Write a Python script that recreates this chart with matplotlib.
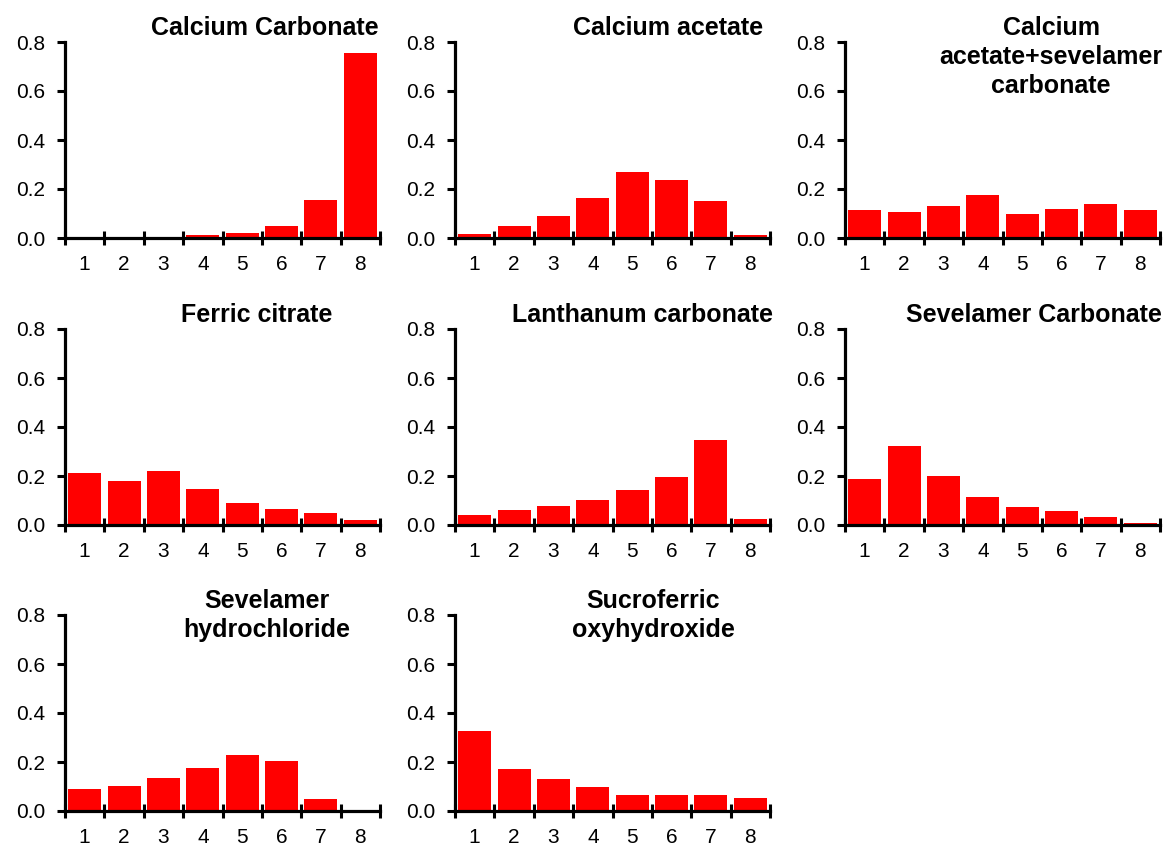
import numpy as np
import matplotlib
matplotlib.use('Agg')
import matplotlib.pyplot as plt
from matplotlib.ticker import FixedLocator, NullFormatter

plt.rcParams['font.family'] = ['Liberation Sans', 'DejaVu Sans']

ranks = [1, 2, 3, 4, 5, 6, 7, 8]

titles = [
    'Calcium Carbonate',
    'Calcium acetate',
    'Calcium\nacetate+sevelamer\ncarbonate',
    'Ferric citrate',
    'Lanthanum carbonate',
    'Sevelamer Carbonate',
    'Sevelamer\nhydrochloride',
    'Sucroferric\noxyhydroxide',
]

calcium_carbonate = [0.001, 0.001, 0.002, 0.011, 0.022, 0.049, 0.155, 0.756]
calcium_acetate = [0.016, 0.049, 0.091, 0.163, 0.269, 0.235, 0.152, 0.012]
ca_acetate_sevelamer = [0.114, 0.106, 0.131, 0.174, 0.098, 0.117, 0.140, 0.113]
ferric_citrate = [0.214, 0.179, 0.222, 0.148, 0.089, 0.066, 0.047, 0.022]
lanthanum_carbonate = [0.042, 0.062, 0.076, 0.102, 0.142, 0.195, 0.348, 0.024]
sevelamer_carbonate = [0.188, 0.321, 0.199, 0.115, 0.072, 0.056, 0.033, 0.008]
sevelamer_hcl = [0.088, 0.103, 0.134, 0.175, 0.230, 0.204, 0.050, 0.0]
sucroferric = [0.325, 0.171, 0.131, 0.100, 0.066, 0.066, 0.065, 0.055]

series = [calcium_carbonate, calcium_acetate, ca_acetate_sevelamer,
          ferric_citrate, lanthanum_carbonate, sevelamer_carbonate,
          sevelamer_hcl, sucroferric]

# horizontal centre of each title, as a fraction of the axes width
title_x = [0.635, 0.676, 0.654, 0.61, 0.594, 0.60, 0.641, 0.63]

W, H = 1171, 848
col_left = [65, 455, 845]
row_top = [42, 329, 615]
ax_w, ax_h = 315, 196

fig = plt.figure(figsize=(W / 100, H / 100), dpi=100)

for i, (name, vals) in enumerate(zip(titles, series)):
    r, c = divmod(i, 3)
    ax = fig.add_axes([col_left[c] / W, 1 - (row_top[r] + ax_h) / H,
                       ax_w / W, ax_h / H])
    ax.bar(ranks, vals, width=0.84, color='#ff0000', edgecolor='none')
    ax.set_xlim(0.5, 8.5)
    ax.set_ylim(0, 0.8)

    for side in ['top', 'right']:
        ax.spines[side].set_visible(False)
    for side in ['left', 'bottom']:
        ax.spines[side].set_linewidth(2.3)

    ax.set_yticks([0.0, 0.2, 0.4, 0.6, 0.8])
    ax.set_yticklabels(['0.0', '0.2', '0.4', '0.6', '0.8'])
    ax.tick_params(axis='y', direction='out', length=6, width=2.2,
                   labelsize=15, pad=8)

    # tick marks between bars, labels under bars
    ax.xaxis.set_major_locator(FixedLocator(np.arange(0.5, 9, 1)))
    ax.xaxis.set_major_formatter(NullFormatter())
    ax.xaxis.set_minor_locator(FixedLocator(ranks))
    ax.set_xticklabels([str(k) for k in ranks], minor=True)
    ax.tick_params(axis='x', which='major', direction='inout', length=10,
                   width=2.2)
    ax.tick_params(axis='x', which='minor', length=0, labelsize=15, pad=12)

    ax.annotate(name, xy=(title_x[i], 1.0), xycoords='axes fraction',
                xytext=(0, 18.5), textcoords='offset points',
                ha='center', va='top', fontsize=18, fontweight='bold',
                linespacing=1.25, annotation_clip=False)

fig.savefig('out.png', dpi=100)
plt.close(fig)
